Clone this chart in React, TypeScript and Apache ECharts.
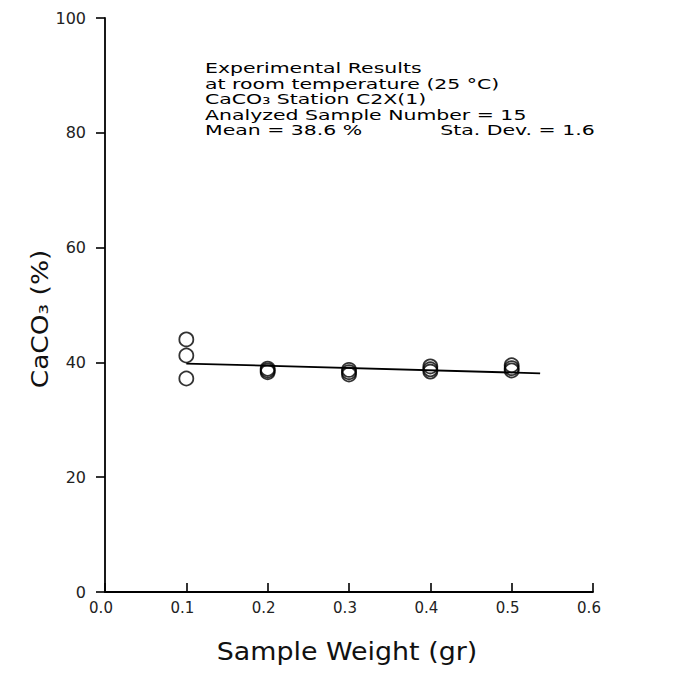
import React, { useEffect, useRef } from "react";
import * as echarts from "echarts";

// Sample weight (gr) of each analyzed sample
const sampleWeights = [0.1, 0.1, 0.1, 0.2, 0.2, 0.2, 0.3, 0.3, 0.3, 0.4, 0.4, 0.4, 0.5, 0.5, 0.5];
// CaCO3 (%) measured
const caco3Values = [44.0, 41.2, 37.2, 38.3, 38.6, 38.9, 37.9, 38.3, 38.7, 38.4, 38.8, 39.3, 38.6, 39.0, 39.5];

// fitted line endpoints
const fitWeights = [0.1, 0.535];
const fitValues = [39.8, 38.1];

const xTicks = ["0.0", "0.1", "0.2", "0.3", "0.4", "0.5", "0.6"];
const yTicks = ["0", "20", "40", "60", "80", "100"];

const noteLines = [
  "Experimental Results",
  "at room temperature (25 °C)",
  "CaCO₃ Station C2X(1)",
  "Analyzed Sample Number = 15",
  "Mean = 38.6 %            Sta. Dev. = 1.6",
];

export default function App() {
  const ref = useRef<HTMLDivElement>(null);
  useEffect(() => {
    if (!ref.current) return;
    const chart = echarts.init(ref.current, null, { renderer: "svg" });
    const font = "'DejaVu Sans', Verdana, sans-serif";
    chart.setOption({
      animation: false,
      backgroundColor: "#ffffff",
      grid: { left: 97, right: 92, top: 10, bottom: 88 },
      xAxis: {
        type: "value",
        min: 0,
        max: 0.6,
        interval: 0.1,
        axisLine: { show: true, lineStyle: { color: "#000", width: 1.8 } },
        axisTick: { show: true, inside: true, length: 9, lineStyle: { color: "#000", width: 1.6 } },
        axisLabel: {
          fontFamily: font,
          fontSize: 15,
          color: "#222",
          margin: 8,
          padding: [0, 8, 0, 0],
          formatter: (v: number) => xTicks[Math.round(v * 10)] ?? v.toFixed(1),
        },
        splitLine: { show: false },
      },
      yAxis: {
        type: "value",
        min: 0,
        max: 100,
        interval: 20,
        axisLine: { show: true, lineStyle: { color: "#000", width: 1.8 } },
        axisTick: { show: true, inside: false, length: 9, lineStyle: { color: "#000", width: 1.6 } },
        axisLabel: {
          fontFamily: font,
          fontSize: 16,
          color: "#222",
          margin: 19,
          formatter: (v: number) => yTicks[Math.round(v / 20)] ?? String(v),
        },
        splitLine: { show: false },
      },
      graphic: [
        {
          type: "group",
          left: 197,
          top: 53,
          children: noteLines.map((t, i) => ({
            type: "text",
            x: 0,
            y: i * 15.4,
            scaleX: 1.41,
            style: { text: t, fontFamily: font, fontSize: 14.5, fill: "#000" },
          })),
        },
        {
          type: "text",
          x: 339,
          y: 644,
          scaleX: 1.12,
          style: {
            text: "Sample Weight (gr)",
            fontFamily: font,
            fontSize: 24,
            fill: "#111",
            align: "center",
            verticalAlign: "middle",
          },
        },
        {
          type: "text",
          x: 32,
          y: 311,
          rotation: Math.PI / 2,
          scaleX: 1.15,
          style: {
            text: "CaCO₃ (%)",
            fontFamily: font,
            fontSize: 23,
            fill: "#111",
            align: "center",
            verticalAlign: "middle",
          },
        },
      ],
      series: [
        {
          type: "line",
          data: fitWeights.map((w, i) => [w, fitValues[i]]),
          showSymbol: false,
          symbol: "none",
          lineStyle: { color: "#000", width: 1.8 },
          z: 2,
        },
        {
          type: "scatter",
          data: sampleWeights.map((w, i) => [w, caco3Values[i]]),
          symbol: "circle",
          symbolSize: 14,
          itemStyle: { color: "rgba(255,255,255,0)", borderColor: "#000", borderWidth: 1.8 },
          z: 3,
        },
      ],
    });
    return () => chart.dispose();
  }, []);
  return <div ref={ref} style={{ width: 677, height: 672 }} />;
}
